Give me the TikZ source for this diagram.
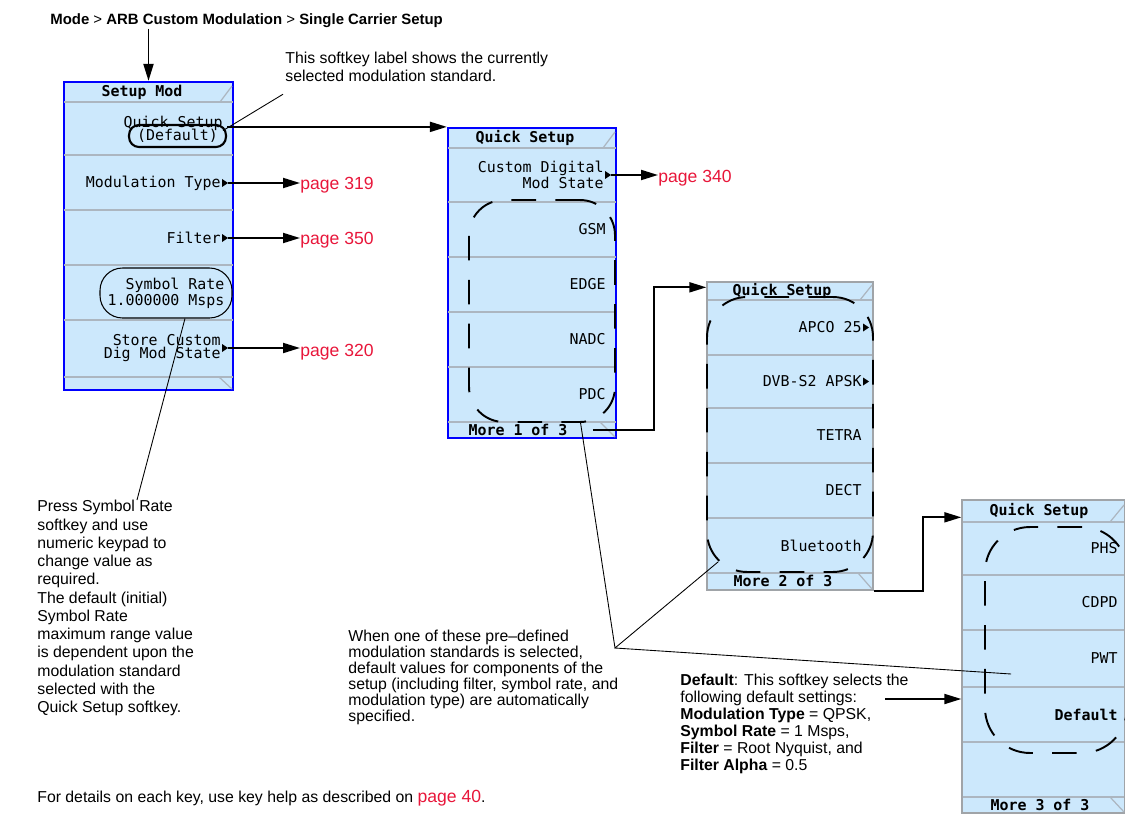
\documentclass[tikz,border=0pt]{standalone}
\usepackage{fontspec}
\setmainfont{Liberation Sans}
\newfontfamily\keyfont{DejaVu Sans Mono}
\usepackage{xcolor}
\usetikzlibrary{arrows.meta}

\definecolor{keyblue}{RGB}{204,232,252}
\definecolor{keyline}{RGB}{172,182,192}
\definecolor{framegray}{RGB}{160,164,168}
\definecolor{pagered}{RGB}{232,22,58}

\begin{document}
\begin{tikzpicture}[
        x=0.02cm, y=-0.02cm,
        panel/.style={rectangle,fill=keyblue,draw=#1,line width=1.3pt,inner sep=0pt},
        keysep/.style={keyline,line width=0.9pt,shorten <=0.7pt,shorten >=0.7pt},
        tabcut/.style={keyline,line width=0.7pt},
        keytext/.style={font=\keyfont\fontsize{8.5}{7.4}\selectfont,inner sep=0pt,align=right},
        keytitle/.style={font=\keyfont\bfseries\fontsize{8.5}{7.4}\selectfont,inner sep=0pt},
        stdgroup/.style={rectangle,draw,line width=1.1pt,dash pattern=on 14pt off 11pt,rounded corners=#1,inner sep=0pt},
        arr/.style={line width=1.1pt,-{Triangle[length=0.34cm,width=0.2cm]}},
        callout/.style={line width=0.5pt},
        note/.style={font=\fontsize{9}{10.4}\selectfont,align=left,inner sep=0pt},
        pageref/.style={font=\fontsize{10}{12}\selectfont,text=pagered,inner sep=0pt}
    ]
    \useasboundingbox (0,0) rectangle (1125,814);

    % Menu path
    \node[anchor=base west,inner sep=0pt,font=\fontsize{8.5}{10}\selectfont] (hdr) at (50,25)
        {\textbf{Mode} > \textbf{ARB Custom Modulation} > \textbf{Single Carrier Setup}};

    % Setup Mod menu
    \node[panel=blue,minimum width=3.38cm,minimum height=6.16cm] (p1) at (148.5,236) {};
    \foreach \y in {102,155,210,265,320,377}
        \draw[keysep] (p1.west |- 0,\y) -- (p1.east |- 0,\y);
    \draw[tabcut] (220,102) -- (232,86);
    \draw[tabcut] (219,377) -- (232,389);
    \node[keytitle] (t1) at (142,92) {Setup Mod};
    \node[keytext,anchor=east] (qsk) at (223,123) {Quick Setup};
    \node[keytext,anchor=east,draw,line width=1.2pt,rounded corners=0.2cm,inner xsep=0.16cm,minimum height=0.44cm] (dflt) at (227,136) {(Default)};
    \node[keytext,anchor=east] (mtype) at (221,183) {Modulation Type};
    \node[keytext,anchor=east] (filt) at (221,238) {Filter};
    \node[keytext,draw,line width=0.6pt,rounded corners=0.45cm,minimum width=2.64cm,minimum height=1cm] (symrate) at (166,293) {Symbol Rate\\1.000000 Msps};
    \node[keytext,anchor=east] (store) at (221,348) {Store Custom\\Dig Mod State};
    \fill (mtype.east) ++(1,-4) -- ++(6,4) coordinate (mtypem) -- ++(-6,4) -- cycle;
    \fill (filt.east) ++(1,-4) -- ++(6,4) coordinate (filtm) -- ++(-6,4) -- cycle;
    \fill (store.east) ++(1,-4) -- ++(6,4) coordinate (storem) -- ++(-6,4) -- cycle;

    % Quick Setup, page 1
    \node[panel=blue,minimum width=3.36cm,minimum height=6.2cm] (p2) at (532,283) {};
    \foreach \y in {148,202,257,312,367,422}
        \draw[keysep] (p2.west |- 0,\y) -- (p2.east |- 0,\y);
    \draw[tabcut] (603,148) -- (615,132);
    \draw[tabcut] (600,422) -- (615,437);
    \node[keytitle] (t2) at (525,138) {Quick Setup};
    \node[keytext,anchor=east] (cds) at (604,175) {Custom Digital\\Mod State};
    \fill (cds.east) ++(1,-4) -- ++(6,4) coordinate (cdsm) -- ++(-6,4) -- cycle;
    \foreach \lbl/\y in {GSM/229.5,EDGE/284.5,NADC/339.5,PDC/394.5}
        \node[keytext,anchor=east] (k\lbl) at (606,\y) {\lbl};
    \node[keytitle] (m1) at (518,430) {More 1 of 3};

    % Quick Setup, page 2
    \node[panel=framegray,line width=0.8pt,minimum width=3.32cm,minimum height=6.16cm] (p3) at (790,436) {};
    \foreach \y in {300,355,408,463,518,573}
        \draw[keysep] (p3.west |- 0,\y) -- (p3.east |- 0,\y);
    \draw[tabcut] (860,300) -- (872,285);
    \draw[tabcut] (858,573) -- (872,589);
    \node[keytitle] (t3) at (782,291) {Quick Setup};
    \node[keytext,anchor=east] (kapco) at (862,327.5) {APCO 25};
    \node[keytext,anchor=east] (kdvb) at (862,381.5) {DVB-S2 APSK};
    \fill (kapco.east) ++(1,-4) -- ++(6,4) -- ++(-6,4) -- cycle;
    \fill (kdvb.east) ++(1,-4) -- ++(6,4) -- ++(-6,4) -- cycle;
    \foreach \lbl/\y in {TETRA/435.5,DECT/490.5,Bluetooth/545.5}
        \node[keytext,anchor=east] (k\lbl) at (862,\y) {\lbl};
    \node[keytitle] (m2) at (783,581) {More 2 of 3};

    % Quick Setup, page 3
    \node[panel=framegray,line width=0.8pt,minimum width=3.26cm,minimum height=6.26cm] (p4) at (1043.5,656.5) {};
    \foreach \y in {522,575,630,687,742,797}
        \draw[keysep] (p4.west |- 0,\y) -- (p4.east |- 0,\y);
    \draw[tabcut] (1110,522) -- (1124,505);
    \draw[tabcut] (1110,797) -- (1124,812);
    \node[keytitle] (t4) at (1039,511) {Quick Setup};
    \foreach \lbl/\y in {PHS/548.5,CDPD/602.5,PWT/658.5}
        \node[keytext,anchor=east] (k\lbl) at (1118,\y) {\lbl};
    \node[keytitle,anchor=east] (kdef) at (1118,714.5) {Default};
    \node[keytitle] (m3) at (1040,805) {More 3 of 3};

    % Pre-defined standards
    \node[stdgroup=0.7cm,minimum width=2.92cm,minimum height=4.44cm] (g2) at (542,311) {};
    \node[stdgroup=0.8cm,minimum width=3.32cm,minimum height=5.5cm] (g3) at (790,434.5) {};
    \node[stdgroup=0.9cm,minimum width=2.84cm,minimum height=4.52cm] (g4) at (1056,640) {};

    % Page references
    \node[pageref,anchor=west] (pg319) at (300,185) {page 319};
    \node[pageref,anchor=west] (pg350) at (300,240) {page 350};
    \node[pageref,anchor=west] (pg320) at (300,352) {page 320};
    \node[pageref,anchor=west] (pg340) at (658,178) {page 340};

    % Notes
    \node[note,anchor=north west,font=\fontsize{9}{10.2}\selectfont] (lbl) at (285,52)
        {This softkey label shows the currently\\selected modulation standard.};
    \node[note,anchor=north west] (press) at (37,500)
        {Press Symbol Rate\\softkey and use\\numeric keypad to\\change value as\\required.\\The default (initial)\\Symbol Rate\\maximum range value\\is dependent upon the\\modulation standard\\selected with the\\Quick Setup softkey.};
    \node[note,anchor=north west,font=\fontsize{9}{9.1}\selectfont] (when) at (348,630)
        {When one of these pre–defined\\modulation standards is selected,\\default values for components of the\\setup (including filter, symbol rate, and\\modulation type) are automatically\\specified.};
    \node[note,anchor=north west,font=\fontsize{9}{9.6}\selectfont] (dnote) at (680,674)
        {\textbf{Default}: This softkey selects the\\following default settings:\\\textbf{Modulation Type} = QPSK,\\\textbf{Symbol Rate} = 1 Msps,\\\textbf{Filter} = Root Nyquist, and\\\textbf{Filter Alpha} = 0.5};
    \node[note,anchor=north west] (foot) at (37,790)
        {For details on each key, use key help as described on \textcolor{pagered}{\fontsize{10}{12}\selectfont page 40}.};

    % Arrows
    \draw[arr] (hdr.south -| p1.north) -- (p1.north);
    \draw[arr] (dflt.east |- p2.north) -- (p2.north west);
    \draw[arr] (mtypem) -- (mtypem -| pg319.west);
    \draw[arr] (filtm) -- (filtm -| pg350.west);
    \draw[arr] (storem) -- (storem -| pg320.west);
    \draw[arr] (cdsm) -- (cdsm -| pg340.west);
    \draw[arr] ([xshift=0.5cm]m1.east) -- ++(61,0) |- ([yshift=-0.12cm]p3.north west);
    \draw[arr] (p3.south east) -- ++(49,0) |- ([yshift=-0.36cm]p4.north west);
    \coordinate (da) at (885,699);
    \draw[arr] (da) -- (da -| p4.west);

    % Callout lines
    \draw[callout] ([shift={(-2,12)}]lbl.south west) -- (qsk.south east);
    \draw[callout] ([xshift=0.38cm]symrate.south) -- ([xshift=2cm]press.north west);
    \coordinate (cv) at (615,648);
    \draw[callout] (g2.-71) -- (cv) -- ([shift={(12,-11)}]g3.south west);
    \draw[callout] (cv) -- ([shift={(27,34)}]g4.west);
\end{tikzpicture}
\end{document}
